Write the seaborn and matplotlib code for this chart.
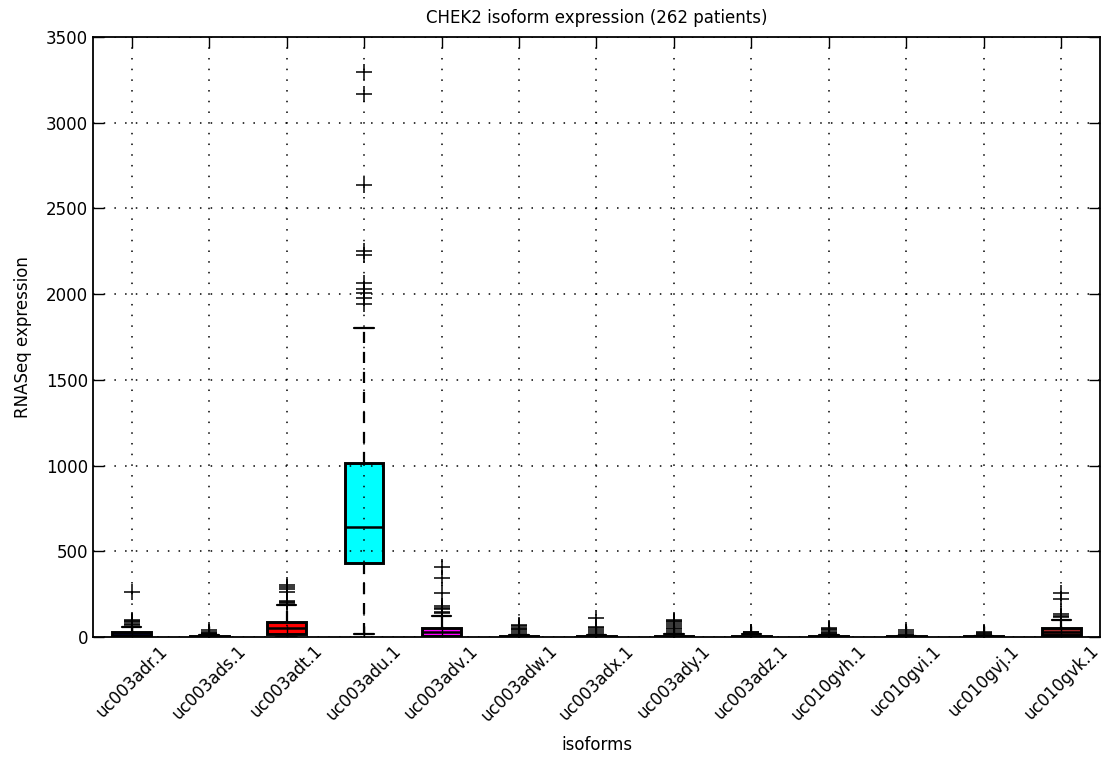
import matplotlib
matplotlib.use("Agg")
import matplotlib.pyplot as plt
import seaborn as sns
import pandas as pd

# ---- data ----
isoforms = ["uc003adr.1", "uc003ads.1", "uc003adt.1", "uc003adu.1", "uc003adv.1",
            "uc003adw.1", "uc003adx.1", "uc003ady.1", "uc003adz.1", "uc010gvh.1",
            "uc010gvi.1", "uc010gvj.1", "uc010gvk.1"]

adr = [0, 0, 1, 1, 2, 3, 4, 4, 5, 6, 7, 8, 9, 10, 11, 11, 12, 14, 16, 18, 20, 22, 24, 26, 28,
       40, 60, 70, 78, 85, 92, 100, 265]
ads = [0, 0, 0, 0, 0, 0, 0, 0, 0, 0, 1, 1, 1, 1, 1, 2, 2, 3, 3, 3, 4, 4,
       6, 10, 15, 20, 25, 32, 38]
adt = [2, 4, 6, 8, 10, 12, 14, 16, 17, 19, 20, 23, 26, 29, 32, 35, 38, 41, 44, 47, 50,
       54, 58, 62, 66, 70, 74, 78, 82, 86, 90,
       120, 150, 188, 198, 203, 210, 265, 280, 292, 305]
adu = [17, 60, 110, 160, 210, 250, 290, 330, 370, 400, 420, 433,
       455, 475, 500, 520, 545, 565, 585, 600, 615, 630, 643,
       680, 720, 760, 800, 840, 880, 920, 950, 980, 1000, 1017,
       1800, 1943, 1977, 2006, 2032, 2067, 2228, 2254, 2637, 3168, 3298]
adv = [0, 0, 0, 1, 1, 2, 2, 3, 4, 4, 5, 7, 9, 12, 14, 17, 19, 22, 25, 27, 30,
       32, 35, 37, 40, 42, 45, 47, 50, 52, 55,
       80, 120, 138, 148, 162, 170, 181, 259, 342, 407]
adw = [0, 0, 0, 0, 0, 0, 0, 0, 0, 0, 0, 0, 0, 1, 1, 1, 1, 1, 1,
       2, 2, 2, 3, 3, 4, 4, 4, 5,
       8, 12, 20, 30, 40, 48, 55, 62, 68]
adx = [0, 0, 0, 0, 0, 0, 0, 0, 0, 0, 0, 1, 1, 1, 1, 1, 1,
       2, 2, 3, 3, 4, 4, 4, 5,
       8, 12, 20, 30, 40, 50, 58, 112]
ady = [0, 0, 0, 0, 0, 0, 0, 0, 0, 0, 0, 0, 0, 0, 0, 1, 1, 1, 1, 2, 2, 2, 2,
       3, 3, 4, 4, 5, 5, 6, 6, 7, 7, 8,
       12, 18, 25, 35, 45, 55, 65, 75, 85, 95, 100]
adz = [0, 0, 0, 0, 0, 0, 0, 1, 1, 1, 2, 3, 4, 5, 6, 8,
       12, 18, 25, 28, 32]
gvh = [0, 0, 0, 0, 0, 0, 0, 0, 0, 0, 0, 0, 1, 1, 1, 1, 1,
       2, 2, 2, 3, 3, 3, 4, 4,
       6, 10, 15, 22, 30, 38, 45, 52]
gvi = [0, 0, 0, 0, 0, 0, 0, 0, 0, 1, 1, 1, 1, 1, 2, 2, 2, 3, 3,
       5, 7, 12, 20, 28, 38]
gvj = [0, 0, 0, 0, 0, 0, 0, 0, 0, 1, 1, 1, 1, 1, 2, 2, 2, 3, 3,
       5, 7, 10, 15, 22, 28]
gvk = [1, 3, 5, 7, 8, 10, 11, 12, 15, 18, 21, 24, 27, 30, 32,
       35, 38, 41, 44, 47, 50, 52,
       75, 100, 115, 122, 132, 222, 255]

series = [adr, ads, adt, adu, adv, adw, adx, ady, adz, gvh, gvi, gvj, gvk]
box_colors = ["#101070", "#008000", "#ff0000", "#00ffff", "#ff00ff", "#ffff00",
              "#000000", "#0000ff", "#008000", "#ff0000", "#00ffff", "#ff00ff", "#a52a2a"]

title = "CHEK2 isoform expression (262 patients)"
xlabel = "isoforms"
ylabel = "RNASeq expression"
yticks = [0, 500, 1000, 1500, 2000, 2500, 3000, 3500]

# ---- long-form table ----
rows = []
for name, vals in zip(isoforms, series):
    for v in vals:
        rows.append((name, v))
df = pd.DataFrame(rows, columns=["isoform", "value"])

sns.set_style("white")
plt.rcParams["font.family"] = ["DejaVu Sans"]
plt.rcParams["text.color"] = "black"
plt.rcParams["axes.labelcolor"] = "black"
plt.rcParams["xtick.color"] = "black"
plt.rcParams["ytick.color"] = "black"

fig = plt.figure(figsize=(11.15, 7.66), dpi=100)
ax = fig.add_axes([0.0834, 0.1684, 0.9031, 0.7833])

sns.boxplot(
    data=df, x="isoform", y="value", hue="isoform", order=isoforms, hue_order=isoforms,
    palette=dict(zip(isoforms, box_colors)), saturation=1, width=0.5, whis=1.5,
    linecolor="black", linewidth=2, legend=False, ax=ax,
    boxprops=dict(edgecolor="black", linewidth=2.1),
    medianprops=dict(color="black", linewidth=1.8),
    whiskerprops=dict(color="black", linewidth=1.6, linestyle=(0, (5, 4))),
    capprops=dict(color="black", linewidth=1.6),
    flierprops=dict(marker="+", markersize=11, markeredgewidth=1.1,
                    markeredgecolor="black", markerfacecolor="black"),
)

ax.set_ylim(0, 3500)
ax.set_xlim(-0.5, len(isoforms) - 0.5)
ax.set_yticks(yticks)
ax.set_yticklabels([str(t) for t in yticks], fontsize=12, color="black")
ax.set_xticks(range(len(isoforms)))
ax.set_xticklabels(isoforms, rotation=45, fontsize=12, ha="center", va="top",
                   color="black")
ax.set_title(title, fontsize=12, pad=10, color="black")
ax.set_xlabel(xlabel, fontsize=12, labelpad=8, color="black")
ax.set_ylabel(ylabel, fontsize=12, labelpad=10, color="black")

ax.set_axisbelow(False)
ax.grid(True, color="black", linestyle=(0, (1, 6)), linewidth=1.1)
ax.tick_params(direction="in", length=8, width=1, top=True, right=True,
               bottom=True, left=True, colors="black")
for s in ax.spines.values():
    s.set_visible(True)
    s.set_color("black")
    s.set_linewidth(1.3)

fig.savefig("out.png", dpi=100, facecolor="white")
